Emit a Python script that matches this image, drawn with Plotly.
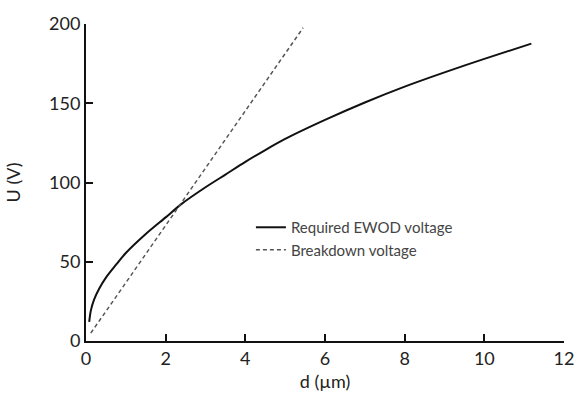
import plotly.graph_objects as go

# Required EWOD voltage (solid curve)
ewod_d = [0.08, 0.12, 0.2, 0.33, 0.5, 0.75, 1.0, 1.5, 2.0, 2.4, 3.0, 3.5, 4.0, 4.5,
          5.0, 6.0, 7.0, 8.0, 9.0, 10.0, 11.18]
ewod_u = [12, 19, 26, 33, 40, 48, 55.5, 67.5, 78, 86.5, 97, 105, 113, 120.5,
          127.5, 139.5, 150.5, 160.5, 169.5, 178, 187.6]

# Breakdown voltage (dashed line)
bd_d = [0.12, 5.45]
bd_u = [5, 197.6]

x_ticks = [0, 2, 4, 6, 8, 10, 12]
y_ticks = [0, 50, 100, 150, 200]

FONT = "Lato"

fig = go.Figure()
fig.add_trace(go.Scatter(x=ewod_d, y=ewod_u, mode="lines", name="Required EWOD voltage",
                         line=dict(color="#111111", width=2, shape="spline", smoothing=0.8)))
fig.add_trace(go.Scatter(x=bd_d, y=bd_u, mode="lines", name="Breakdown voltage",
                         line=dict(color="#555555", width=1.5, dash="4px,3px")))

axis_common = dict(tickmode="array", ticks="inside", ticklen=7, tickwidth=2,
                   tickcolor="#111111", showline=True, linecolor="#111111", linewidth=2,
                   showgrid=False, zeroline=False, layer="above traces", automargin=True,
                   tickfont=dict(size=18, color="#222222"))

fig.update_layout(
    width=586, height=401,
    margin=dict(l=50, r=17, t=13, b=40),
    paper_bgcolor="white", plot_bgcolor="white",
    font=dict(family=FONT, color="#222222"),
    showlegend=True,
    legend=dict(x=0.345, y=0.41, xanchor="left", yanchor="top",
                font=dict(family=FONT, size=15, color="#444444"),
                bgcolor="rgba(0,0,0,0)", tracegroupgap=0),
    xaxis=dict(range=[0, 12], tickvals=x_ticks,
               title=dict(text="d (µm)", font=dict(size=18, color="#222222"), standoff=8),
               **axis_common),
    yaxis=dict(range=[0, 200], tickvals=y_ticks,
               title=dict(text="U (V)", font=dict(size=18, color="#222222"), standoff=24),
               **axis_common),
)

fig.write_html("out.html")
